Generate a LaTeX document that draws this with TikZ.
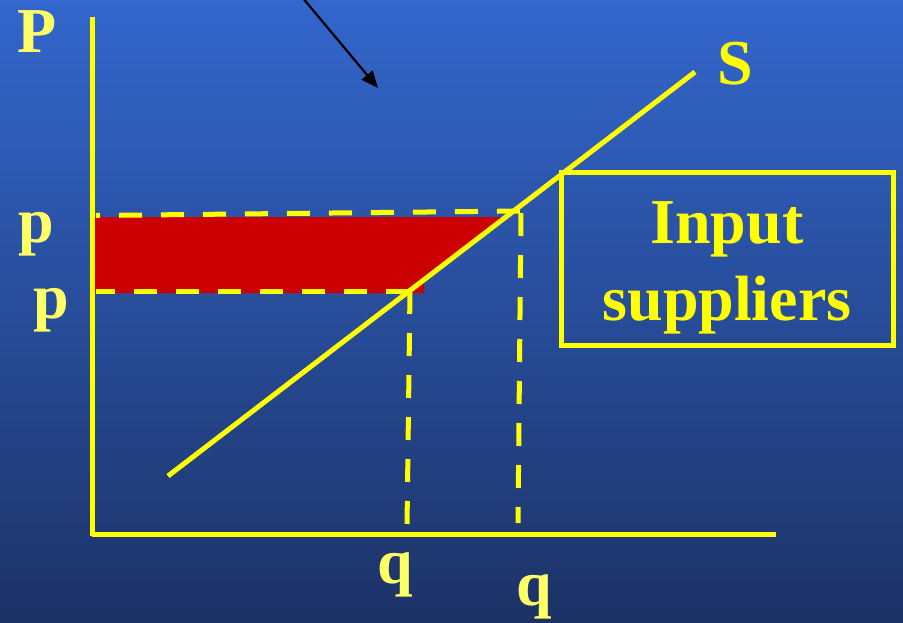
\documentclass[tikz,border=0pt]{standalone}
\usepackage{fontspec}
\setmainfont{Liberation Serif}
\usetikzlibrary{arrows.meta,positioning}
\definecolor{mktBlueTop}{HTML}{3367CD}
\definecolor{mktBlueMid}{HTML}{2C56AA}
\definecolor{mktBlueBot}{HTML}{1C3266}
\definecolor{mktYellow}{HTML}{FFFF00}
\definecolor{mktPale}{HTML}{FFFF66}
\definecolor{mktSurplus}{HTML}{CC0000}
\tikzset{
  mktAxis/.style={draw=mktYellow,line width=5pt},
  mktCurve/.style={draw=mktYellow,line width=5pt},
  mktGuide/.style={draw=mktYellow,line width=5pt,dash pattern=on 23pt off 19pt},
  mktLabel/.style={text=mktPale,inner sep=0pt,anchor=base west,
                   font=\fontsize{64}{64}\selectfont\bfseries},
  mktPointer/.style={draw=black,line width=2.2pt}
}

\begin{document}
\begin{tikzpicture}[
  x=1pt,y=-1pt,
  box/.style={draw=mktYellow,line width=5pt,inner sep=0pt,
              minimum width=332pt,minimum height=173pt},
  boxText/.style={text=mktYellow,inner sep=0pt,anchor=base,
                  font=\fontsize{64}{64}\selectfont\bfseries},
  >={Triangle[length=17pt,width=14pt]}]
\useasboundingbox (0,0) rectangle (903,622);
\shade[top color=mktBlueTop,middle color=mktBlueMid,bottom color=mktBlueBot]
  (0,0) rectangle (903,622);
% axes and points
\coordinate (yTop) at (92,17);
\coordinate (origin) at (92,534);
\coordinate (xEnd) at (776,534);
\coordinate (sLow) at (168,476);
\coordinate (sHigh) at (695,72);
\coordinate (eLow) at (410,291);
\coordinate (eHigh) at (521,211);
\coordinate (pHigh) at (96,215.5);
\coordinate (pLow) at (96,291);
\coordinate (qLow) at (407,527);
\coordinate (qHigh) at (518,523);
% surplus area
\fill[mktSurplus] (95,217) -- (502,217) -- (424,281) -- (424,293) -- (95,293) -- cycle;
\draw[mktGuide,dash phase=19pt] (pHigh) -- (eHigh);
\draw[mktGuide,dash phase=4pt] (pLow) -- (eLow);
\draw[mktGuide] (eLow) -- (qLow);
\draw[mktGuide,dash phase=40pt] (eHigh) -- (qHigh);
\draw[mktAxis] (92,536) -- (yTop);
\draw[mktAxis] (origin) -- (xEnd);
\draw[mktCurve] (sLow) -- (sHigh);
\node[box] (suppliersBox) at (727.5,258.5) {};
\node[boxText] (inputText) at (727,243) {Input};
\node[boxText] (suppliersText) at (727,320) {suppliers};
\node[mktLabel] (priceAxis) at (17,52) {P};
\node[mktLabel] (pHighLabel) at (18,242) {p};
\node[mktLabel] (pLowLabel) at (33,318) {p};
\node[mktLabel] (qLowLabel) at (377,583) {q};
\node[mktLabel] (qHighLabel) at (516,605) {q};
\node[mktLabel,text=mktYellow] (supplyLabel) at (717,84) {S};
\coordinate (pointerFrom) at (302,-3);
\coordinate (pointerTo) at (378,88);
\draw[mktPointer,->] (pointerFrom) -- (pointerTo);
\end{tikzpicture}
\end{document}
